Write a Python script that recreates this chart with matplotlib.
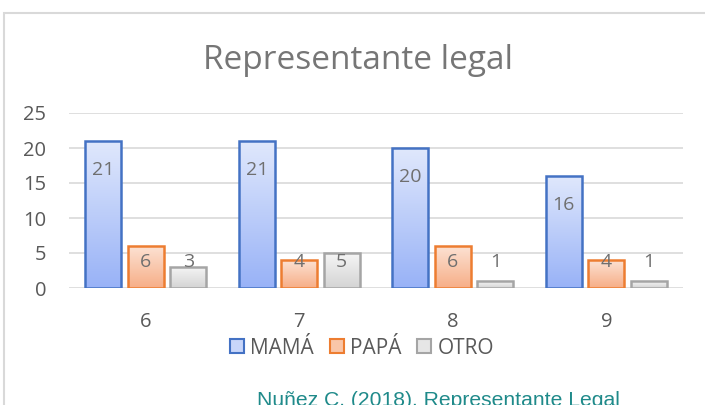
import numpy as np
import matplotlib
matplotlib.use("Agg")
import matplotlib.pyplot as plt
from matplotlib.patches import Rectangle, Patch
from matplotlib.colors import LinearSegmentedColormap

categories = ["6", "7", "8", "9"]
series_names = ["MAMÁ", "PAPÁ", "OTRO"]
mama = [21, 21, 20, 16]
papa = [6, 4, 6, 4]
otro = [3, 5, 1, 1]
yticks = [0, 5, 10, 15, 20, 25]
title = "Representante legal"
source = "Nuñez C. (2018). Representante Legal"

values = [mama, papa, otro]
edge_colors = ["#4472c4", "#ed7d31", "#a5a5a5"]
grad_colors = [("#e0e8fc", "#98b2f7"), ("#fce3d5", "#f7ae87"), ("#f6f6f6", "#d4d4d4")]
legend_face = ["#c8d6fa", "#f9c6a9", "#e6e6e6"]

W, H = 705, 405
fig = plt.figure(figsize=(W / 100, H / 100), dpi=100)
fig.patch.set_facecolor("white")

# outer chart frame
fig.add_artist(Rectangle((4 / W, -0.1), 1.2, 1 - 13 / H + 0.1, transform=fig.transFigure,
                         fill=False, edgecolor="#d9d9d9", linewidth=1.5))

ax = fig.add_axes([69 / W, 1 - 288 / H, (683 - 69) / W, (288 - 113) / H])
font = "Open Sans"
for s in ax.spines.values():
    s.set_visible(False)
ax.set_yticks(yticks)
ax.set_yticklabels([str(t) for t in yticks], fontsize=14.5, color="#595959", family=font)
ax.set_xticks(range(len(categories)))
ax.set_xticklabels(categories, fontsize=14.5, color="#595959", family=font)
ax.tick_params(length=0)
ax.tick_params(axis="y", pad=16.5)
ax.tick_params(axis="x", pad=17)
ax.yaxis.grid(True, color="#d9d9d9", linewidth=1.2)
ax.set_axisbelow(True)

bw = 0.234
step = 0.277
x = np.arange(len(categories))
for i, (vals, ec, (ctop, cbot)) in enumerate(zip(values, edge_colors, grad_colors)):
    offs = (i - 1) * step
    bars = ax.bar(x + offs, vals, bw, facecolor="none", edgecolor=ec, linewidth=1.8, zorder=3)
    cmap = LinearSegmentedColormap.from_list("g%d" % i, [cbot, ctop])
    grad = np.linspace(0, 1, 256).reshape(-1, 1)
    for b, v in zip(bars, vals):
        x0, w = b.get_x(), b.get_width()
        im = ax.imshow(grad, cmap=cmap, origin="lower", aspect="auto",
                       extent=[x0, x0 + w, 0, v], zorder=2, interpolation="bicubic")
        im.set_clip_path(b)
        ly = max(v - 4.1, 3.65)
        ax.text(x0 + w / 2, ly, str(v), ha="center", va="center", fontsize=14,
                color="#6f6f6f", family=font, zorder=4)
ax.set_xlim(-0.5, len(categories) - 0.5)
ax.set_ylim(0, 25)

fig.text(358 / W, 1 - 69 / H, title, ha="center", va="baseline", fontsize=24,
         color="#767676", family=font)

handles = [Patch(facecolor=fc, edgecolor=ec, linewidth=1.5) for fc, ec in zip(legend_face, edge_colors)]
leg = fig.legend(handles, series_names, loc="center", bbox_to_anchor=(362 / W, 1 - 348 / H),
                 ncol=3, frameon=False, handlelength=0.68, handleheight=0.68, handletextpad=0.3,
                 columnspacing=0.75, borderpad=0, borderaxespad=0,
                 prop={"family": font, "size": 15})
for t in leg.get_texts():
    t.set_color("#595959")

fig.text(257 / W, 1 - 406 / H, source, ha="left", va="baseline", fontsize=15.2,
         color="#1f8a8a", family="Liberation Sans")

fig.savefig("out.png", dpi=100)
